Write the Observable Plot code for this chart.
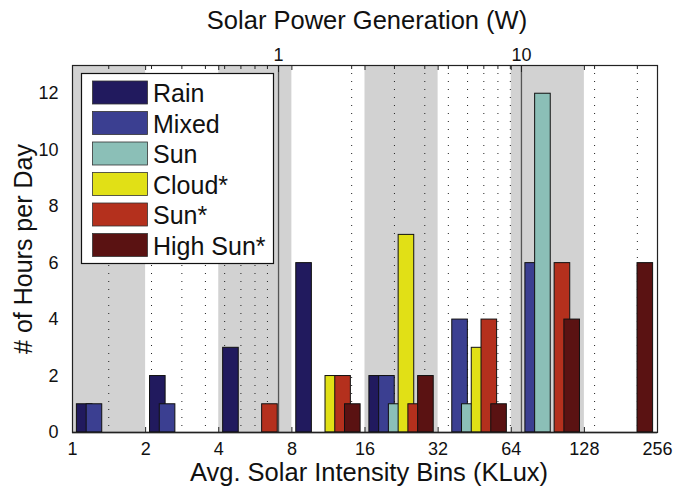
<!DOCTYPE html>
<html><head><meta charset="utf-8">
<script src="https://cdn.jsdelivr.net/npm/d3@7"></script>
<script src="https://cdn.jsdelivr.net/npm/@observablehq/plot@0.6"></script>
<style>body{margin:0;background:#fff;} #chart{width:690px;height:488px;}</style>
</head><body><div id="chart"></div>
<script>
// ---- data ----
const series = ["Rain", "Mixed", "Sun", "Cloud*", "Sun*", "High Sun*"];
const colors = ["#211a5e", "#3b3f91", "#8bbfb7", "#e1e016", "#b4301d", "#5a1212"];
const binEdges = [1, 2, 4, 8, 16, 32, 64, 128, 256]; // KLux bin edges / bottom tick labels
const rain     = [1, 2, 3, 6, 2, 0, 0, 0];
const mixed    = [1, 1, 0, 0, 2, 4, 6, 0];
const sun      = [0, 0, 0, 0, 1, 1, 12, 0];
const cloudS   = [0, 0, 0, 2, 7, 3, 0, 0];
const sunS     = [0, 0, 1, 2, 1, 4, 6, 0];
const highSunS = [0, 0, 0, 1, 2, 1, 4, 6];
const yTicks = [0, 2, 4, 6, 8, 10, 12];
const powerMajor = [1, 10];                                   // top axis (W)
const powerMinor = [0.2,0.3,0.4,0.5,0.6,0.7,0.8,0.9,2,3,4,5,6,7,8,9,20,30];
const luxPerWatt = 7.05;                                      // KLux per W (top/bottom axis link)
const shadedBins = [0, 2, 4, 6];

// ---- derived tables ----
const values = [rain, mixed, sun, cloudS, sunS, highSunS];
const step = 0.1333, barW = 0.2133; // group layout in log2 units
const bars = [];
values.forEach((arr, i) => arr.forEach((v, k) => {
  if (v > 0) {
    const c = k + 0.5 + (i - 2.5) * step;
    bars.push({series: series[i], v, x1: 2 ** (c - barW / 2), x2: 2 ** (c + barW / 2)});
  }
}));
const bands = shadedBins.map(k => ({x1: binEdges[k], x2: binEdges[k + 1]}));

const yMax = 13;
const plotH = 488 - 65 - 56;
const px = p => p * yMax / plotH; // pixels -> y units for tick lengths
const FONT = "'Liberation Sans', Arial, Helvetica, sans-serif";

const chart = Plot.plot({
  width: 690, height: 488,
  marginLeft: 72, marginRight: 33, marginTop: 65, marginBottom: 56,
  x: {type: "log", base: 2, domain: [1, 256], axis: null},
  y: {domain: [0, yMax], axis: null},
  color: {domain: series, range: colors},
  style: {fontFamily: FONT, background: "white", color: "#111"},
  marks: [
    Plot.rect(bands, {x1: "x1", x2: "x2", y1: 0, y2: yMax, fill: "#d2d2d2"}),
    Plot.ruleX(powerMinor, {x: d => d * luxPerWatt, stroke: "#222", strokeDasharray: "1,7", strokeWidth: 1}),
    Plot.ruleX(powerMajor, {x: d => d * luxPerWatt, stroke: "#555", strokeWidth: 1.3}),
    Plot.rect(bars, {x1: "x1", x2: "x2", y1: 0, y2: "v", fill: "series", stroke: "#111", strokeWidth: 1}),
    Plot.ruleY([0], {stroke: "#111", strokeWidth: 1.5}),
    // inward ticks
    Plot.ruleX(binEdges, {x: d => d, y1: 0, y2: px(5), stroke: "#222"}),
    Plot.ruleX(binEdges, {x: d => d, y1: yMax - px(5), y2: yMax, stroke: "#222"}),
    Plot.ruleX(powerMinor, {x: d => d * luxPerWatt, y1: yMax - px(4), y2: yMax, stroke: "#222"}),
    Plot.ruleX(powerMajor, {x: d => d * luxPerWatt, y1: yMax - px(7), y2: yMax, stroke: "#222"}),
    Plot.frame({stroke: "#222", strokeWidth: 1.2}),
    // tick labels
    Plot.text(binEdges, {x: d => d, text: d => String(d), frameAnchor: "bottom", textAnchor: "middle", lineAnchor: "bottom", dy: 22, fontSize: 18}),
    Plot.text(yTicks, {y: d => d, text: d => String(d), frameAnchor: "left", textAnchor: "end", dx: -14, fontSize: 18}),
    Plot.text(powerMajor, {x: d => d * luxPerWatt, text: d => String(d), frameAnchor: "top", textAnchor: "middle", lineAnchor: "bottom", dy: -5, fontSize: 18}),
    // axis titles
    Plot.text(["Solar Power Generation (W)"], {text: d => d, frameAnchor: "top", textAnchor: "middle", lineAnchor: "bottom", dy: -37, dx: 2, fontSize: 25.5}),
    Plot.text(["Avg. Solar Intensity Bins (KLux)"], {text: d => d, frameAnchor: "bottom", textAnchor: "middle", lineAnchor: "bottom", dy: 48, dx: 4, fontSize: 25.5}),
    Plot.text(["# of Hours per Day"], {text: d => d, frameAnchor: "left", textAnchor: "middle", rotate: -90, lineAnchor: "bottom", dx: -41, fontSize: 25})
  ]
});
document.getElementById("chart").appendChild(chart);

// ---- legend (inside plot, upper left) ----
const svg = d3.select(chart);
const lg = svg.append("g").attr("font-family", FONT).attr("text-anchor", "start");
lg.append("rect").attr("x", 81.5).attr("y", 73.5).attr("width", 192).attr("height", 190)
  .attr("fill", "white").attr("stroke", "#111").attr("stroke-width", 1.2);
series.forEach((s, i) => {
  const y0 = 81 + i * 30.5;
  lg.append("rect").attr("x", 92.5).attr("y", y0).attr("width", 55).attr("height", 23)
    .attr("fill", colors[i]).attr("stroke", "#333").attr("stroke-width", 0.8);
  lg.append("text").attr("x", 153).attr("y", y0 + 21).attr("font-size", 25)
    .attr("text-anchor", "start").attr("fill", "#111").text(s);
});
</script>
</body></html>
